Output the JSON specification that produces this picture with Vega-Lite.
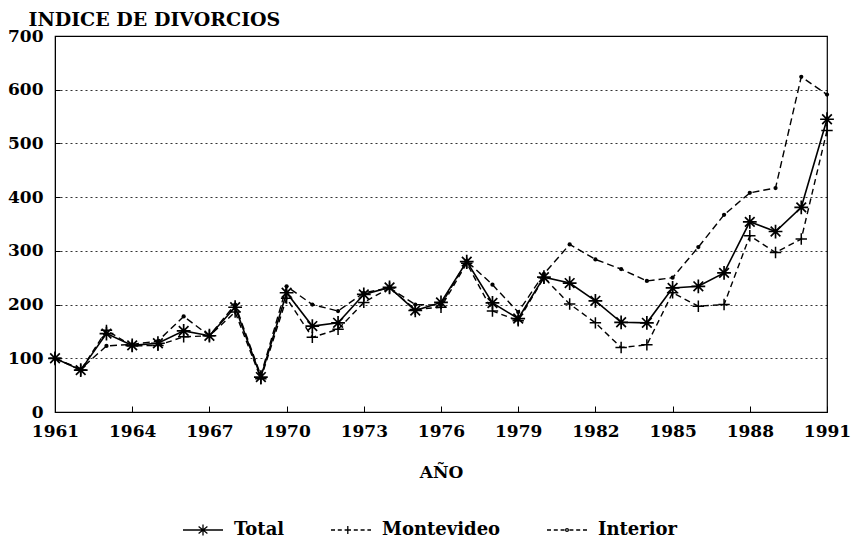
{
  "$schema": "https://vega.github.io/schema/vega-lite/v6.json",
  "width": 772,
  "height": 376,
  "autosize": {"type": "none"},
  "padding": {"left": 55, "top": 36, "right": 26, "bottom": 130},
  "background": "white",
  "config": {"view": {"stroke": "black", "strokeWidth": 1.2}, "font": "DejaVu Serif", "legend": {"labelFont": "DejaVu Serif"}},
  "data": {"values": [
    {"year": 1961, "series": "Total", "value": 100}, {"year": 1962, "series": "Total", "value": 78}, {"year": 1963, "series": "Total", "value": 146}, {"year": 1964, "series": "Total", "value": 124}, {"year": 1965, "series": "Total", "value": 128}, {"year": 1966, "series": "Total", "value": 151}, {"year": 1967, "series": "Total", "value": 142}, {"year": 1968, "series": "Total", "value": 195}, {"year": 1969, "series": "Total", "value": 65}, {"year": 1970, "series": "Total", "value": 222}, {"year": 1971, "series": "Total", "value": 160}, {"year": 1972, "series": "Total", "value": 166}, {"year": 1973, "series": "Total", "value": 219}, {"year": 1974, "series": "Total", "value": 232}, {"year": 1975, "series": "Total", "value": 189}, {"year": 1976, "series": "Total", "value": 204}, {"year": 1977, "series": "Total", "value": 280}, {"year": 1978, "series": "Total", "value": 203}, {"year": 1979, "series": "Total", "value": 174}, {"year": 1980, "series": "Total", "value": 251}, {"year": 1981, "series": "Total", "value": 240}, {"year": 1982, "series": "Total", "value": 207}, {"year": 1983, "series": "Total", "value": 167}, {"year": 1984, "series": "Total", "value": 166}, {"year": 1985, "series": "Total", "value": 231}, {"year": 1986, "series": "Total", "value": 234}, {"year": 1987, "series": "Total", "value": 259}, {"year": 1988, "series": "Total", "value": 354}, {"year": 1989, "series": "Total", "value": 336}, {"year": 1990, "series": "Total", "value": 381}, {"year": 1991, "series": "Total", "value": 545},
    {"year": 1961, "series": "Montevideo", "value": 100}, {"year": 1962, "series": "Montevideo", "value": 78}, {"year": 1963, "series": "Montevideo", "value": 152}, {"year": 1964, "series": "Montevideo", "value": 123}, {"year": 1965, "series": "Montevideo", "value": 124}, {"year": 1966, "series": "Montevideo", "value": 140}, {"year": 1967, "series": "Montevideo", "value": 142}, {"year": 1968, "series": "Montevideo", "value": 186}, {"year": 1969, "series": "Montevideo", "value": 62}, {"year": 1970, "series": "Montevideo", "value": 212}, {"year": 1971, "series": "Montevideo", "value": 139}, {"year": 1972, "series": "Montevideo", "value": 154}, {"year": 1973, "series": "Montevideo", "value": 204}, {"year": 1974, "series": "Montevideo", "value": 231}, {"year": 1975, "series": "Montevideo", "value": 191}, {"year": 1976, "series": "Montevideo", "value": 195}, {"year": 1977, "series": "Montevideo", "value": 277}, {"year": 1978, "series": "Montevideo", "value": 188}, {"year": 1979, "series": "Montevideo", "value": 170}, {"year": 1980, "series": "Montevideo", "value": 250}, {"year": 1981, "series": "Montevideo", "value": 201}, {"year": 1982, "series": "Montevideo", "value": 166}, {"year": 1983, "series": "Montevideo", "value": 120}, {"year": 1984, "series": "Montevideo", "value": 125}, {"year": 1985, "series": "Montevideo", "value": 222}, {"year": 1986, "series": "Montevideo", "value": 197}, {"year": 1987, "series": "Montevideo", "value": 200}, {"year": 1988, "series": "Montevideo", "value": 328}, {"year": 1989, "series": "Montevideo", "value": 297}, {"year": 1990, "series": "Montevideo", "value": 322}, {"year": 1991, "series": "Montevideo", "value": 524},
    {"year": 1961, "series": "Interior", "value": 100}, {"year": 1962, "series": "Interior", "value": 80}, {"year": 1963, "series": "Interior", "value": 123}, {"year": 1964, "series": "Interior", "value": 126}, {"year": 1965, "series": "Interior", "value": 132}, {"year": 1966, "series": "Interior", "value": 178}, {"year": 1967, "series": "Interior", "value": 142}, {"year": 1968, "series": "Interior", "value": 200}, {"year": 1969, "series": "Interior", "value": 68}, {"year": 1970, "series": "Interior", "value": 234}, {"year": 1971, "series": "Interior", "value": 200}, {"year": 1972, "series": "Interior", "value": 188}, {"year": 1973, "series": "Interior", "value": 222}, {"year": 1974, "series": "Interior", "value": 231}, {"year": 1975, "series": "Interior", "value": 200}, {"year": 1976, "series": "Interior", "value": 199}, {"year": 1977, "series": "Interior", "value": 281}, {"year": 1978, "series": "Interior", "value": 237}, {"year": 1979, "series": "Interior", "value": 186}, {"year": 1980, "series": "Interior", "value": 257}, {"year": 1981, "series": "Interior", "value": 312}, {"year": 1982, "series": "Interior", "value": 284}, {"year": 1983, "series": "Interior", "value": 266}, {"year": 1984, "series": "Interior", "value": 244}, {"year": 1985, "series": "Interior", "value": 250}, {"year": 1986, "series": "Interior", "value": 307}, {"year": 1987, "series": "Interior", "value": 367}, {"year": 1988, "series": "Interior", "value": 408}, {"year": 1989, "series": "Interior", "value": 417}, {"year": 1990, "series": "Interior", "value": 624}, {"year": 1991, "series": "Interior", "value": 591}
  ]},
  "encoding": {
    "x": {
      "field": "year", "type": "quantitative",
      "scale": {"domain": [1961, 1991], "nice": false, "zero": false},
      "axis": {
        "values": [1961, 1964, 1967, 1970, 1973, 1976, 1979, 1982, 1985, 1988, 1991],
        "format": "d", "title": "AÑO", "grid": false,
        "domainColor": "black", "tickColor": "black", "tickSize": -6, "labelPadding": 17,
        "labelFont": "DejaVu Serif", "labelFontWeight": "bold", "labelFontSize": 17, "labelColor": "black", "labelFlush": false,
        "titleFont": "DejaVu Serif", "titleFontWeight": "bold", "titleFontSize": 17, "titleColor": "black",
        "titleY": 65, "titleBaseline": "alphabetic"
      }
    },
    "y": {
      "field": "value", "type": "quantitative",
      "scale": {"domain": [0, 700], "nice": false},
      "axis": {
        "values": [0, 100, 200, 300, 400, 500, 600, 700],
        "title": "INDICE DE DIVORCIOS", "titleAngle": 0, "titleAlign": "left", "titleX": -27, "titleY": -11, "titleBaseline": "alphabetic",
        "titleFont": "DejaVu Serif", "titleFontWeight": "bold", "titleFontSize": 19, "titleColor": "black",
        "grid": true, "gridDash": [2, 3], "gridColor": "black", "gridOpacity": 0.8,
        "domainColor": "black", "tickColor": "black", "tickSize": -5, "labelPadding": 17,
        "labelFont": "DejaVu Serif", "labelFontWeight": "bold", "labelFontSize": 17, "labelColor": "black"
      }
    }
  },
  "layer": [
    {
      "transform": [{"filter": "datum.series === 'Total'"}],
      "mark": {"type": "line", "color": "black", "strokeWidth": 1.6},
      "encoding": {}
    },
    {
      "transform": [{"filter": "datum.series === 'Montevideo'"}],
      "mark": {"type": "line", "color": "black", "strokeWidth": 1.4, "strokeDash": [6, 4]},
      "encoding": {}
    },
    {
      "transform": [{"filter": "datum.series === 'Interior'"}],
      "mark": {"type": "line", "color": "black", "strokeWidth": 1.4, "strokeDash": [7, 4]},
      "encoding": {}
    },
    {
      "transform": [{"filter": "datum.series === 'Total'"}],
      "mark": {"type": "point", "shape": "M-1,0H1M0,-1V1M-0.7,-0.7L0.7,0.7M-0.7,0.7L0.7,-0.7", "size": 190, "stroke": "black", "strokeWidth": 1.7, "filled": false, "opacity": 1}
    },
    {
      "transform": [{"filter": "datum.series === 'Montevideo'"}],
      "mark": {"type": "point", "shape": "M-1,0H1M0,-1V1", "size": 130, "stroke": "black", "strokeWidth": 1.5, "filled": false, "opacity": 1}
    },
    {
      "transform": [{"filter": "datum.series === 'Interior'"}],
      "mark": {"type": "point", "shape": "circle", "size": 18, "color": "black", "filled": true, "opacity": 1}
    },
    {
      "mark": {"type": "point", "strokeOpacity": 0, "fillOpacity": 0, "filled": false, "color": "black"},
      "encoding": {
        "shape": {
          "field": "series", "type": "nominal",
          "scale": {"domain": ["Total", "Montevideo", "Interior"], "range": [
            "M-1,0H1M0,-0.27V0.27M-0.22,-0.17L0.22,0.17M-0.22,0.17L0.22,-0.17",
            "M-1,0H-0.8M-0.66,0H-0.46M-0.32,0H0M0.14,0H0.34M0.48,0H0.68M0.82,0H1M-0.16,-0.2V0.2",
            "M-1,0H-0.8M-0.66,0H-0.46M-0.32,0H-0.12M0.12,0H0.32M0.46,0H0.66M0.8,0H1M0.07,0A0.07,0.07 0 1,1 -0.07,0A0.07,0.07 0 1,1 0.07,0Z"
          ]},
          "legend": {
            "orient": "none", "legendX": 127, "legendY": 473, "direction": "horizontal", "columns": 3, "title": null,
            "symbolSize": 1600, "symbolStrokeColor": "black", "symbolFillColor": "black", "symbolStrokeWidth": 1.3, "symbolOpacity": 1,
            "labelFont": "DejaVu Serif", "labelFontSize": 18, "labelFontWeight": "bold", "labelColor": "black", "labelOffset": 10, "columnPadding": 43,
            "encode": {"symbols": {"update": {"opacity": {"value": 1}, "fillOpacity": {"value": 1}, "strokeOpacity": {"value": 1}}}, "labels": {"update": {"font": {"value": "DejaVu Serif"}}}}
          }
        }
      }
    }
  ]
}
